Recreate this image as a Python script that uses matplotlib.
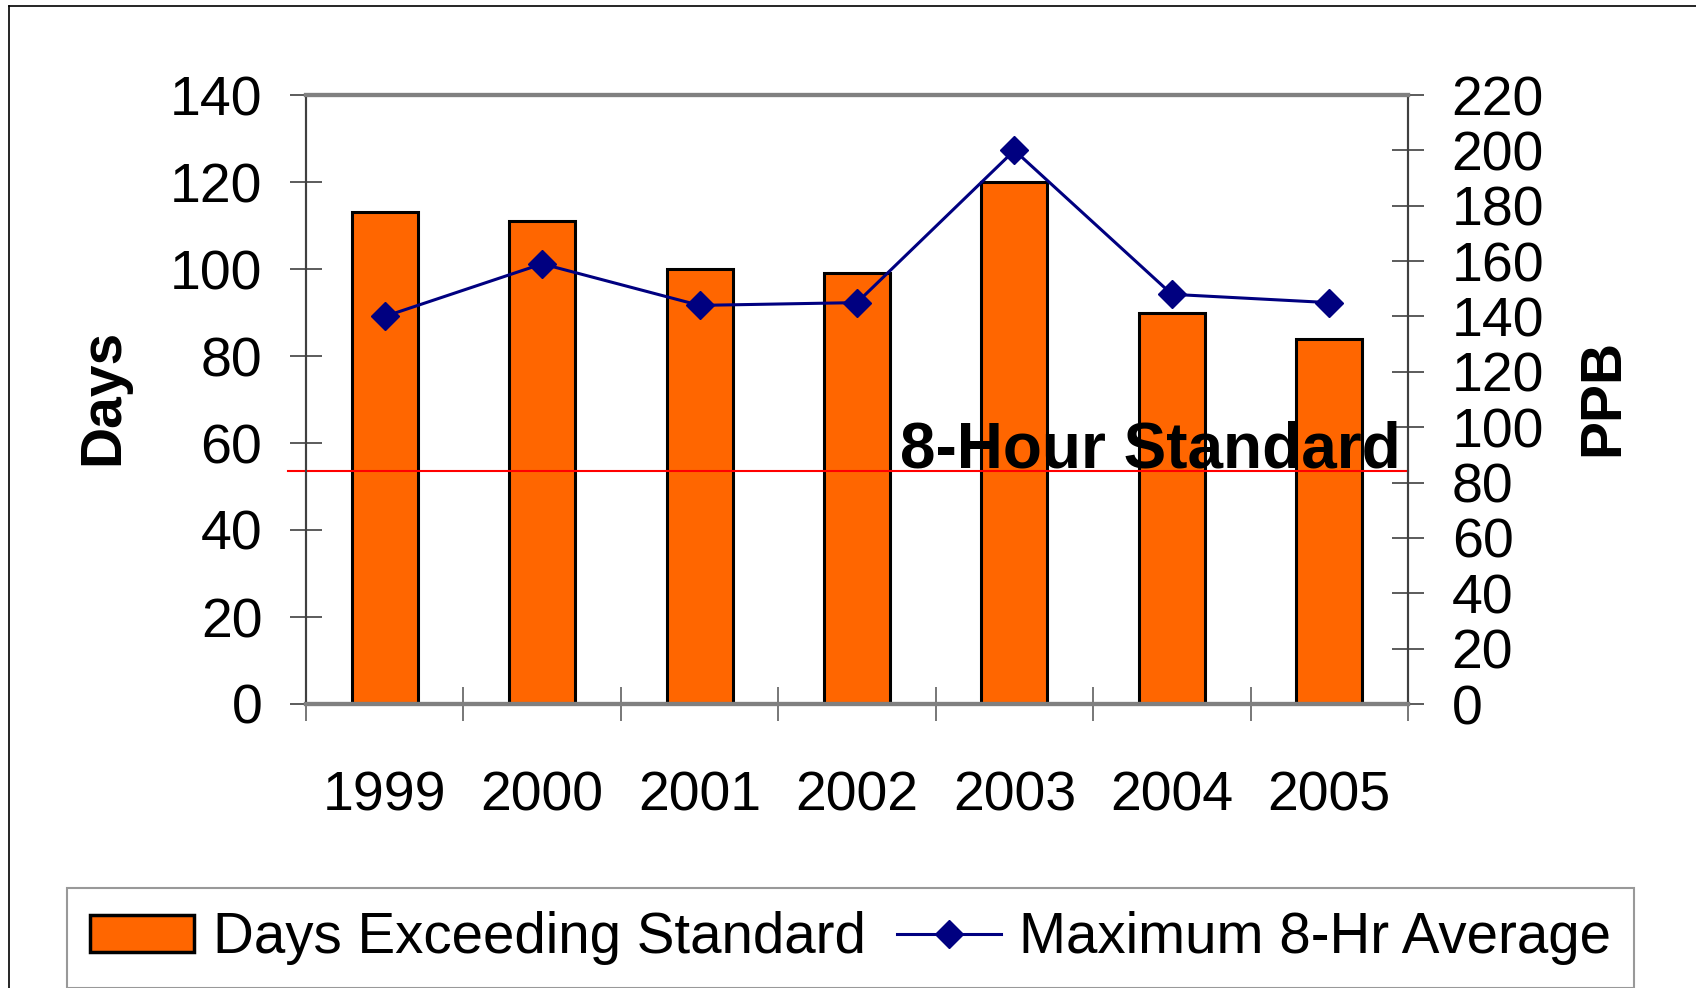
import matplotlib.pyplot as plt
from matplotlib.patches import Patch
from matplotlib.lines import Line2D
plt.rcParams['font.family'] = ['Liberation Sans', 'DejaVu Sans']

# Data
years = ['1999', '2000', '2001', '2002', '2003', '2004', '2005']
days_exceeding = [113, 111, 100, 99, 120, 90, 84]
max_8hr_avg = [140, 159, 144, 145, 200, 148, 145]
standard_ppb = 84

fig = plt.figure(figsize=(16.96, 9.88), dpi=100)
ax = fig.add_axes([306/1696, 1 - 704/988, 1102/1696, 609/988])
ax2 = ax.twinx()

x = range(len(years))
bars = ax.bar(x, days_exceeding, width=0.42, color='#FF6600',
              edgecolor='black', linewidth=2.2, zorder=2)
line, = ax2.plot(x, max_8hr_avg, color='#000080', linewidth=2.2,
                 marker='D', markersize=14, zorder=3)

# 8-hour standard line
ax2.axhline(standard_ppb, xmin=-0.016, xmax=1.0, color='red',
            linewidth=1.5, clip_on=False, zorder=2)
ax2.text(0.993, 0.389, '8-Hour Standard', transform=ax.transAxes,
         ha='right', va='baseline', fontsize=46, fontweight='bold', zorder=5)

# Axes limits / ticks
ax.set_xlim(-0.5, 6.5)
ax.set_ylim(0, 140)
ax2.set_ylim(0, 220)
ax.set_yticks(range(0, 141, 20))
ax2.set_yticks(range(0, 221, 20))
ax.set_xticks(list(x))
ax.set_xticklabels(years)
ax.set_xticks([i - 0.5 for i in range(len(years) + 1)], minor=True)

ax.tick_params(axis='y', direction='inout', length=23, width=1.2,
               color='#404040', labelsize=40, pad=20)
ax2.tick_params(axis='y', direction='inout', length=23, width=1.2,
                color='#404040', labelsize=40, pad=20)
ax.tick_params(axis='x', which='major', length=0, labelsize=40, pad=48)
ax.tick_params(axis='x', which='minor', direction='inout', length=24,
               width=1.2, color='#606060')

for a in (ax, ax2):
    a.spines['left'].set_color('#404040')
    a.spines['right'].set_color('#404040')
    a.spines['left'].set_linewidth(1.5)
    a.spines['right'].set_linewidth(1.5)
    a.spines['top'].set_color('#808080')
    a.spines['bottom'].set_color('#808080')
    a.spines['top'].set_linewidth(3)
    a.spines['bottom'].set_linewidth(3)

fig.text(103/1696, 1 - 397/988, 'Days', rotation=90, ha='center',
         va='center', fontsize=41, fontweight='bold')
fig.text(1603/1696, 1 - 397/988, 'PPB', rotation=90, ha='center',
         va='center', fontsize=41, fontweight='bold')

# Legend
handles = [Patch(facecolor='#FF6600', edgecolor='black', linewidth=2.5),
           Line2D([], [], color='#000080', linewidth=2.2, marker='D',
                  markersize=14)]
leg = fig.legend(handles, ['Days Exceeding Standard', 'Maximum 8-Hr Average'],
                 loc='center', bbox_to_anchor=(0.5015, 1 - 938/988), ncol=2,
                 fontsize=40.7, frameon=True, fancybox=False, shadow=False,
                 handlelength=1.85, handleheight=0.63, handletextpad=0.32,
                 columnspacing=0.55, borderpad=0.4, borderaxespad=0)
leg.get_frame().set_edgecolor('#808080')
leg.get_frame().set_linewidth(1.5)

# Outer border (top and left edges visible)
fig.add_artist(Line2D([9/1696, 9/1696], [0, 1 - 6/988], color='black',
                      linewidth=1.2, transform=fig.transFigure))
fig.add_artist(Line2D([9/1696, 1], [1 - 6/988, 1 - 6/988], color='black',
                      linewidth=1.2, transform=fig.transFigure))

fig.savefig('out.png', dpi=100)
